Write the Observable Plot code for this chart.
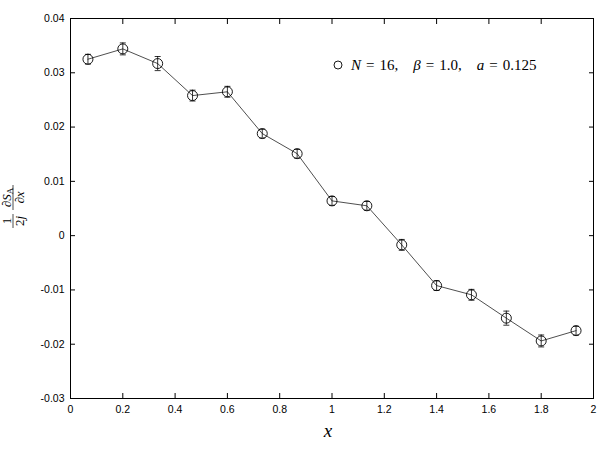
<!DOCTYPE html>
<html>
<head>
<meta charset="utf-8">
<script src="https://cdn.jsdelivr.net/npm/d3@7"></script>
<script src="https://cdn.jsdelivr.net/npm/@observablehq/plot@0.6"></script>
<style>
  body { margin: 0; background: #fff; }
  #chart svg { display: block; }
</style>
</head>
<body>
<div id="chart"></div>
<script>
const xs = [0.0667, 0.2, 0.3333, 0.4667, 0.6, 0.7333, 0.8667, 1.0, 1.1333, 1.2667, 1.4, 1.5333, 1.6667, 1.8, 1.9333];
const ys = [0.0325, 0.0344, 0.0317, 0.0258, 0.0265, 0.0188, 0.0151, 0.0064, 0.0055, -0.0017, -0.0092, -0.0109, -0.0152, -0.0194, -0.0175];
const errs = [0.0009, 0.0011, 0.0013, 0.0010, 0.0010, 0.0008, 0.0008, 0.0008, 0.0008, 0.0010, 0.0009, 0.0010, 0.0013, 0.0011, 0.0008];
const xTicks = [0, 0.2, 0.4, 0.6, 0.8, 1, 1.2, 1.4, 1.6, 1.8, 2];
const xTickLabels = ["0", "0.2", "0.4", "0.6", "0.8", "1", "1.2", "1.4", "1.6", "1.8", "2"];
const yTicks = [-0.03, -0.02, -0.01, 0, 0.01, 0.02, 0.03, 0.04];
const yTickLabels = ["-0.03", "-0.02", "-0.01", "0", "0.01", "0.02", "0.03", "0.04"];

const data = xs.map((x, i) => ({x, y: ys[i], lo: ys[i] - errs[i], hi: ys[i] + errs[i]}));

const capSymbol = {
  draw(context, size) {
    const w = 3;
    context.moveTo(-w, 0);
    context.lineTo(w, 0);
  }
};

const font = "'Liberation Sans', Arial, sans-serif";

const plot = Plot.plot({
  width: 599,
  height: 450,
  marginTop: 18,
  marginRight: 6,
  marginBottom: 52,
  marginLeft: 70,
  style: {fontFamily: font, fontSize: "10.5px", color: "#000", background: "#fff"},
  x: {domain: [0, 2]},
  y: {domain: [-0.03, 0.04]},
  marks: [
    Plot.frame({stroke: "#000", strokeWidth: 1}),
    // inward ticks on all four sides
    Plot.axisX(xTicks, {anchor: "bottom", tickSize: -5, text: null, label: null, stroke: "#000"}),
    Plot.axisX(xTicks, {anchor: "top", tickSize: -5, text: null, label: null, stroke: "#000"}),
    Plot.axisY(yTicks, {anchor: "left", tickSize: -5, text: null, label: null, stroke: "#000"}),
    Plot.axisY(yTicks, {anchor: "right", tickSize: -5, text: null, label: null, stroke: "#000"}),
    // tick labels
    Plot.axisX(xTicks, {anchor: "bottom", tickSize: 0, tickPadding: 7, label: null,
      tickFormat: d => xTickLabels[xTicks.indexOf(d)], fill: "#000"}),
    Plot.axisY(yTicks, {anchor: "left", tickSize: 0, tickPadding: 6, label: null,
      tickFormat: d => yTickLabels[yTicks.indexOf(d)], fill: "#000"}),
    // data line
    Plot.line(data, {x: "x", y: "y", stroke: "#222", strokeWidth: 0.8}),
    // error bars
    Plot.ruleX(data, {x: "x", y1: "lo", y2: "hi", stroke: "#000", strokeWidth: 0.8}),
    Plot.dot(data, {x: "x", y: "lo", symbol: capSymbol, stroke: "#000", strokeWidth: 0.8}),
    Plot.dot(data, {x: "x", y: "hi", symbol: capSymbol, stroke: "#000", strokeWidth: 0.8}),
    // points
    Plot.dot(data, {x: "x", y: "y", r: 5, stroke: "#000", fill: "none", strokeWidth: 0.9})
  ]
});

document.getElementById("chart").appendChild(plot);

const svg = d3.select(plot);
const serif = "'Liberation Serif', 'DejaVu Serif', serif";

// x axis label
svg.append("text")
  .attr("x", 328).attr("y", 437)
  .attr("text-anchor", "middle")
  .attr("font-family", serif).attr("font-style", "italic").attr("font-size", 19)
  .attr("fill", "#000")
  .text("x");

// y axis label: (1 / 2j) (∂S_A / ∂x), rotated
const yl = svg.append("g").attr("transform", "translate(13,208) rotate(-90)")
  .attr("font-family", serif).attr("font-size", 13).attr("fill", "#000")
  .attr("text-anchor", "middle");
// first fraction
yl.append("line").attr("x1", -20).attr("x2", -6).attr("y1", 0).attr("y2", 0).attr("stroke", "#000").attr("stroke-width", 0.7);
yl.append("text").attr("x", -13).attr("y", -2.5).text("1");
yl.append("text").attr("x", -13).attr("y", 11).html('2<tspan font-style="italic">j</tspan>');
// second fraction
yl.append("line").attr("x1", -2).attr("x2", 23).attr("y1", 0).attr("y2", 0).attr("stroke", "#000").attr("stroke-width", 0.7);
yl.append("text").attr("x", 10.5).attr("y", -2.5)
  .html('<tspan font-style="italic">∂S</tspan><tspan font-size="9" dy="2">A</tspan>');
yl.append("text").attr("x", 10.5).attr("y", 11)
  .html('<tspan font-style="italic">∂x</tspan>');

// legend
svg.append("circle").attr("cx", 338).attr("cy", 65).attr("r", 4)
  .attr("fill", "none").attr("stroke", "#000").attr("stroke-width", 0.9);
svg.append("text")
  .attr("x", 351).attr("y", 69.5)
  .attr("text-anchor", "start")
  .attr("font-family", serif).attr("font-size", 15).attr("fill", "#000")
  .style("white-space", "pre")
  .html('<tspan font-style="italic">N</tspan>\u2004=\u200416,\u2003<tspan font-style="italic">β</tspan>\u2004=\u20041.0,\u2003<tspan font-style="italic">a</tspan>\u2004=\u20040.125');
</script>
</body>
</html>
